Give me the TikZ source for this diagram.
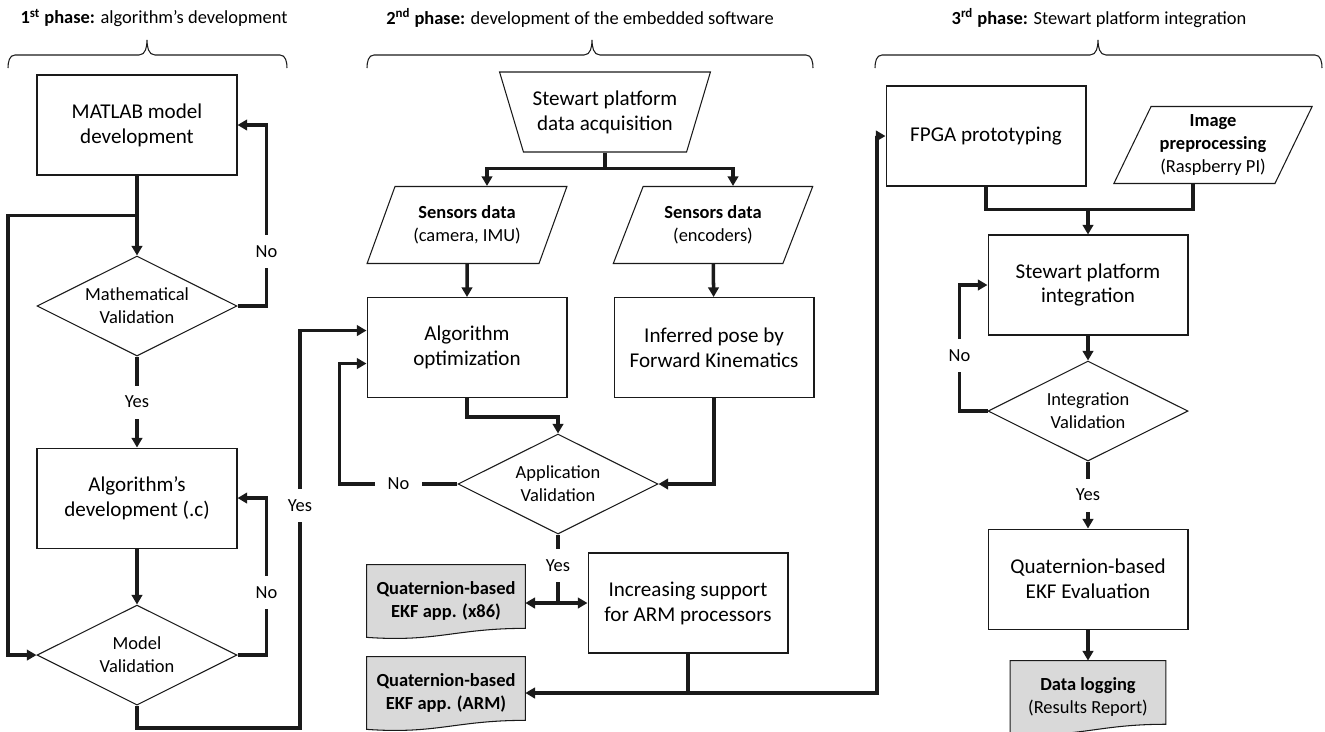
\documentclass[tikz,border=0pt]{standalone}
\usepackage{fontspec}
\setmainfont{Carlito}
\usetikzlibrary{shapes.geometric, arrows.meta, positioning, calc, backgrounds}
\definecolor{docgray}{HTML}{D9D9D9}
\definecolor{ink}{HTML}{1A1A1A}

% wavy document outline drawn round a named node
\newcommand{\docshape}[1]{%
  \draw[docline] (#1.north west) -- (#1.north east) -- ($(#1.south east)+(0,-9)$)
    .. controls +(-70,0) and +(70,5) .. (#1.south west) -- cycle;}

% curly brace over a phase: left end, tip, right end (in px)
\newcommand{\phasebrace}[3]{%
  \draw[bracestroke] (#1,68) to[out=90,in=180] (#1+7,55) -- (#2-8,55)
    to[out=0,in=-90] (#2,40) to[out=-90,in=180] (#2+8,55) -- (#3-7,55) to[out=0,in=90] (#3,68);}

\tikzset{
  procbox/.style={draw=ink, line width=0.6pt, minimum width=4cm, minimum height=2cm, inner sep=2pt, align=center, font=\fontsize{12}{14.2}\selectfont},
  decision/.style={draw=ink, line width=0.6pt, diamond, aspect=2, minimum width=4cm, minimum height=2cm, inner sep=0pt, align=center, font=\fontsize{10.5}{13}\selectfont},
  datain/.style={draw=ink, line width=0.6pt, trapezium, trapezium left angle=63, trapezium right angle=117, trapezium stretches=true, minimum width=4cm, minimum height=1.54cm, inner sep=1pt, align=center, font=\fontsize{10.5}{13.2}\selectfont},
  acqbox/.style={draw=ink, line width=0.6pt, trapezium, trapezium angle=65, shape border rotate=180, trapezium stretches=true, minimum width=4.22cm, minimum height=1.6cm, inner sep=1pt, align=center, font=\fontsize{12}{14.2}\selectfont},
  docnode/.style={minimum width=3.16cm, minimum height=1.44cm, inner sep=1pt, align=center, font=\fontsize{10.5}{13.5}\selectfont},
  docline/.style={draw=ink, line width=0.6pt, fill=docgray},
  link/.style={draw=ink, line width=2pt},
  flow/.style={link, -{Triangle[length=5.5pt, width=6pt]}},
  lbl/.style={fill=white, inner xsep=0.26cm, inner ysep=0.21cm, font=\fontsize{10.5}{12}\selectfont},
  bracestroke/.style={draw=ink, line width=0.6pt},
  phasetitle/.style={font=\fontsize{10.5}{12}\selectfont}
}

\begin{document}
\begin{tikzpicture}[x=0.02cm, y=-0.02cm]
  \useasboundingbox (0,0) rectangle (1325,731);

  % phase titles and braces
  \node (phaseone) [phasetitle] at (154,18) {\textbf{1\textsuperscript{st} phase:} algorithm's development};
  \node (phasetwo) [phasetitle] at (580,18) {\textbf{2\textsuperscript{nd} phase:} development of the embedded software};
  \node (phasethree) [phasetitle] at (1099,18) {\textbf{3\textsuperscript{rd} phase:} Stewart platform integration};
  \phasebrace{8}{147}{287}
  \phasebrace{367}{592}{813}
  \phasebrace{875}{1098}{1322}

  % 1st phase
  \node (matlab) [procbox] at (137,125) {MATLAB model\\development};
  \node (mathval) [decision, below=1.6cm of matlab] {Mathematical\\Validation};
  \node (algdev) [procbox, below=1.82cm of mathval] {Algorithm's\\development (.c)};
  \node (modval) [decision, below=1.12cm of algdev] {Model\\Validation};

  % 2nd phase
  \node (acq) [acqbox] at (605,112) {Stewart platform\\data acquisition};
  \node (sensimu) [datain] at (467,225) {\textbf{Sensors data}\\(camera, IMU)};
  \node (sensenc) [datain] at (713,225) {\textbf{Sensors data}\\(encoders)};
  \node (algopt) [procbox, below=0.66cm of sensimu] {Algorithm\\optimization};
  \node (infer) [procbox, right=0.92cm of algopt] {Inferred pose by\\Forward Kinematics};
  \node (appval) [decision] at (558,484) {Application\\Validation};
  \node (incr) [procbox] at (688,603) {Increasing support\\for ARM processors};
  \node (x86) [docnode, font=\fontsize{10.5}{13.5}\selectfont\bfseries] at (446,601) {Quaternion-based\\EKF app. (x86)};
  \node (arm) [docnode, font=\fontsize{10.5}{13.5}\selectfont\bfseries] at (446,693) {Quaternion-based\\EKF app. (ARM)};

  % 3rd phase
  \node (fpga) [procbox] at (986,136) {FPGA prototyping};
  \node (imgpre) [datain] at (1213,145) {\textbf{Image}\\\textbf{preprocessing}\\(Raspberry PI)};
  \node (stint) [procbox] at (1088,285) {Stewart platform\\integration};
  \node (intval) [decision, below=0.5cm of stint] {Integration\\Validation};
  \node (ekfeval) [procbox, below=1.34cm of intval] {Quaternion-based\\EKF Evaluation};
  \node (datalog) [docnode, minimum width=3.1cm, below=0.62cm of ekfeval] {\textbf{Data logging}\\(Results Report)};

  \begin{scope}[on background layer]
    \docshape{x86}
    \docshape{arm}
    \docshape{datalog}
  \end{scope}

  % 1st phase connectors
  \draw[flow] (matlab) -- (mathval);
  \coordinate (split1) at ($(matlab.south)!0.5!(mathval.north)$);
  \coordinate (leftrail) at (8,0);
  \draw[flow] (split1) -- (split1 -| leftrail) |- (modval.west);
  \draw[flow] (mathval.east) -| node[lbl, pos=0.65] {No} ([xshift=0.58cm]matlab.east) -- (matlab.east);
  \draw[flow] (mathval) -- node[lbl] {Yes} (algdev);
  \draw[flow] (algdev) -- (modval);
  \draw[flow] (modval.east) -| node[lbl, pos=0.7] {No} ([xshift=0.58cm]algdev.east) -- (algdev.east);
  \coordinate (yesbot) at (300,728);
  \draw[flow] (modval.south) |- (yesbot) |- node[lbl, pos=0.28] {Yes} ([yshift=0.34cm]algopt.west);

  % 2nd phase connectors
  \draw[link] (acq.south) -- ++(0,16) coordinate (acqsplit);
  \draw[flow] (acqsplit) -| ([xshift=0.4cm]sensimu.north);
  \draw[flow] (acqsplit) -| ([xshift=0.4cm]sensenc.north);
  \draw[flow] (sensimu) -- (algopt);
  \draw[flow] (sensenc) -- (infer);
  \draw[flow] (algopt.south) -- ++(0,19) -| (appval.north);
  \draw[flow] (infer.south) |- (appval.east);
  \draw[flow] (appval.west) -- node[lbl] {No} ++(-118,0) |- ([yshift=-0.32cm]algopt.west);
  \coordinate (yessplit) at (appval.south |- incr.west);
  \draw[link] (appval.south) -- node[lbl, pos=0.45] {Yes} (yessplit);
  \draw[flow] (yessplit) -- (incr);
  \draw[flow] (yessplit) -- (yessplit -| x86.east);
  \coordinate (armsplit) at (incr.south |- arm.east);
  \draw[link] (incr.south) -- (armsplit);
  \draw[flow] (armsplit) -- (arm.east);
  \draw[flow] (armsplit) -- ++(189,0) |- (fpga.west);

  % 3rd phase connectors
  \coordinate (merge) at ($(stint.north)+(0,-25)$);
  \draw[link] (fpga.south) |- (merge) -| ([xshift=-0.4cm]imgpre.south);
  \draw[flow] (merge) -- (stint);
  \draw[flow] (stint) -- (intval);
  \draw[flow] (intval.west) -- ++(-28,0) |- node[lbl, pos=0.22] {No} (stint.west);
  \draw[flow] (intval) -- node[lbl] {Yes} (ekfeval);
  \draw[flow] (ekfeval) -- (datalog);
\end{tikzpicture}
\end{document}
